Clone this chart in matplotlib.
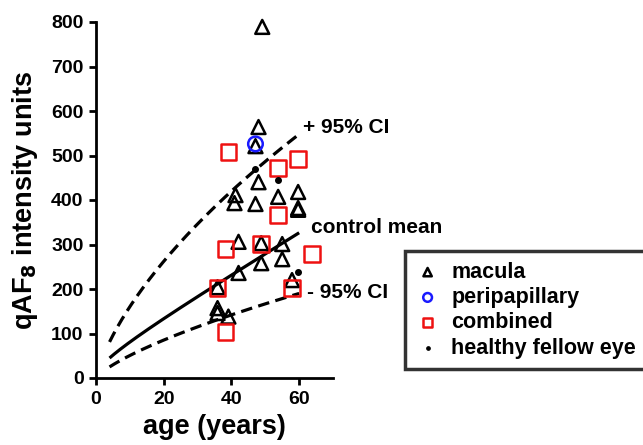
import matplotlib
matplotlib.use("Agg")
import numpy as np
import matplotlib.pyplot as plt

plt.rcParams['font.family'] = ['Liberation Sans', 'DejaVu Sans']
plt.rcParams['font.weight'] = 'bold'

# macula (triangles)
macula_age = [49.1, 48.0, 47.1, 48.0, 41.2, 40.9, 47.1, 53.8, 59.7, 59.7, 59.7,
              42.1, 48.8, 55.0, 48.8, 55.0, 42.1, 35.9, 57.9, 35.9, 35.9, 39.1]
macula_val = [789, 564, 521, 440, 411, 393, 391, 407, 418, 382, 378,
              306, 303, 301, 258, 267, 236, 204, 220, 157, 146, 138]

# peripapillary (circle)
peri_age = [47.1]
peri_val = [526]

# combined (squares)
comb_age = [39.1, 53.8, 59.7, 53.8, 38.2, 48.8, 63.8, 35.9, 57.9, 38.2]
comb_val = [508, 472, 492, 366, 290, 301, 279, 202, 202, 103]

# healthy fellow eye (dots)
fellow_age = [47.1, 53.8, 59.7]
fellow_val = [470, 445, 238]

# control mean and 95% CI curves
curve_age = [4, 10, 20, 30, 40, 50, 60]
mean_val = [45, 80, 135, 182, 230, 280, 326]
upper_val = [81, 160, 265, 345, 415, 485, 553]
lower_val = [25, 50, 85, 115, 145, 167, 187]


def smooth(xs, ys):
    # smooth curve through the read points (fit in log-log space)
    p = np.polyfit(np.log(xs), np.log(ys), 2)
    xx = np.linspace(min(xs), max(xs), 200)
    return xx, np.exp(np.polyval(p, np.log(xx)))


fig = plt.figure(figsize=(6.43, 4.45), dpi=100)
ax = fig.add_axes([96/643, 1-378/445, (333-96)/643, (378-22)/445])

ax.plot(*smooth(curve_age, mean_val), color='black', lw=2.3, solid_capstyle='butt')
ax.plot(*smooth(curve_age, upper_val), color='black', lw=2.3, dashes=(3.6, 2.0))
ax.plot(*smooth(curve_age, lower_val), color='black', lw=2.3, dashes=(3.6, 2.0))

h1 = ax.scatter(macula_age, macula_val, marker='^', s=100, facecolors='none',
                edgecolors='black', linewidths=1.8, clip_on=False, zorder=3)
h2 = ax.scatter(peri_age, peri_val, marker='o', s=110, facecolors='none',
                edgecolors='#1a1aff', linewidths=1.8, clip_on=False, zorder=3)
h3 = ax.scatter(comb_age, comb_val, marker='s', s=125, facecolors='none',
                edgecolors='#ee1111', linewidths=1.8, clip_on=False, zorder=3)
h4 = ax.scatter(fellow_age, fellow_val, marker='o', s=16, color='black',
                clip_on=False, zorder=4)

ax.text(61.2, 562, '+ 95% CI', fontsize=15, fontweight='bold', va='center')
ax.text(63.5, 338, 'control mean', fontsize=15, fontweight='bold', va='center')
ax.text(62.3, 193, '- 95% CI', fontsize=15, fontweight='bold', va='center')

ax.set_xlim(0, 70)
ax.set_ylim(0, 800)
ax.set_xticks([0, 20, 40, 60])
ax.set_yticks(range(0, 801, 100))
for s in ['top', 'right']:
    ax.spines[s].set_visible(False)
for s in ['left', 'bottom']:
    ax.spines[s].set_linewidth(2)
ax.tick_params(width=2, length=5, labelsize=14)
ax.tick_params(axis='y', pad=4)
ax.tick_params(axis='x', pad=4)
for lab in ax.get_xticklabels() + ax.get_yticklabels():
    lab.set_fontweight('bold')

ax.set_xlabel('age (years)', fontsize=19.5, fontweight='bold', labelpad=5)
ax.set_ylabel('qAF$_\\mathbf{8}$ intensity units', fontsize=19.5, fontweight='bold', labelpad=8)

leg = fig.legend([h1, h2, h3, h4],
                 ['macula', 'peripapillary', 'combined', 'healthy fellow eye'],
                 loc='upper left', bbox_to_anchor=(405/643, 1-251/445),
                 fontsize=15.5, frameon=True, fancybox=False, handletextpad=0.55,
                 borderpad=0.5, labelspacing=0.2, handlelength=1.1,
                 markerscale=0.6, borderaxespad=0)
leg.get_frame().set_edgecolor('black')
leg.get_frame().set_linewidth(2.5)
for t in leg.get_texts():
    t.set_fontweight('bold')

fig.savefig('out.png', dpi=100)
